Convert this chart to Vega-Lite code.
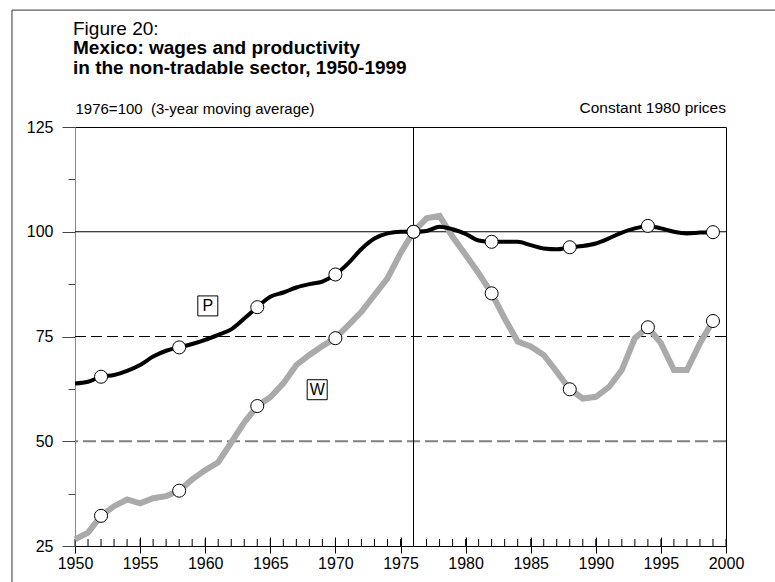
{
  "$schema": "https://vega.github.io/schema/vega-lite/v6.json",
  "width": 651,
  "height": 419,
  "autosize": "none",
  "padding": {"left": 75, "top": 127, "right": 49, "bottom": 36},
  "config": {
    "view": {"stroke": "black", "strokeWidth": 1},
    "font": "Liberation Sans",
    "axis": {"grid": false, "labelFont": "Liberation Sans", "labelFontSize": 16, "labelColor": "black"}
  },
  "title": {
    "text": "Figure 20:",
    "subtitle": ["Mexico: wages and productivity", "in the non-tradable sector, 1950-1999"],
    "anchor": "start",
    "frame": "group",
    "fontSize": 19,
    "fontWeight": "normal",
    "color": "black",
    "subtitleFontSize": 19,
    "subtitleFontWeight": "bold",
    "subtitleColor": "black",
    "subtitleLineHeight": 20,
    "subtitlePadding": 0,
    "offset": -68,
    "dx": -2
  },
  "datasets": {
    "series": [
      {"year": 1950, "P": 63.8, "W": 26.6},
      {"year": 1951, "P": 64.2, "W": 28.2},
      {"year": 1952, "P": 65.4, "W": 32.2},
      {"year": 1953, "P": 65.8, "W": 34.5},
      {"year": 1954, "P": 66.8, "W": 36.1},
      {"year": 1955, "P": 68.2, "W": 35.2},
      {"year": 1956, "P": 70.2, "W": 36.4},
      {"year": 1957, "P": 71.6, "W": 36.9},
      {"year": 1958, "P": 72.4, "W": 38.2},
      {"year": 1959, "P": 73.2, "W": 40.9},
      {"year": 1960, "P": 74.2, "W": 43.1},
      {"year": 1961, "P": 75.4, "W": 45.0},
      {"year": 1962, "P": 76.7, "W": 49.7},
      {"year": 1963, "P": 79.3, "W": 54.5},
      {"year": 1964, "P": 82.0, "W": 58.4},
      {"year": 1965, "P": 84.5, "W": 60.5},
      {"year": 1966, "P": 85.5, "W": 63.8},
      {"year": 1967, "P": 86.7, "W": 68.2},
      {"year": 1968, "P": 87.5, "W": 70.6},
      {"year": 1969, "P": 88.1, "W": 72.7},
      {"year": 1970, "P": 89.8, "W": 74.6},
      {"year": 1971, "P": 92.5, "W": 77.7},
      {"year": 1972, "P": 95.9, "W": 80.9},
      {"year": 1973, "P": 98.4, "W": 84.9},
      {"year": 1974, "P": 99.6, "W": 88.9},
      {"year": 1975, "P": 100.0, "W": 94.9},
      {"year": 1976, "P": 100.0, "W": 100.0},
      {"year": 1977, "P": 100.2, "W": 103.2},
      {"year": 1978, "P": 101.2, "W": 103.8},
      {"year": 1979, "P": 100.6, "W": 98.8},
      {"year": 1980, "P": 99.5, "W": 94.5},
      {"year": 1981, "P": 97.9, "W": 90.1},
      {"year": 1982, "P": 97.6, "W": 85.3},
      {"year": 1983, "P": 97.6, "W": 79.3},
      {"year": 1984, "P": 97.6, "W": 73.8},
      {"year": 1985, "P": 96.8, "W": 72.6},
      {"year": 1986, "P": 96.0, "W": 70.6},
      {"year": 1987, "P": 95.8, "W": 66.6},
      {"year": 1988, "P": 96.3, "W": 62.4},
      {"year": 1989, "P": 96.6, "W": 60.2},
      {"year": 1990, "P": 97.2, "W": 60.6},
      {"year": 1991, "P": 98.4, "W": 62.9},
      {"year": 1992, "P": 99.8, "W": 67.0},
      {"year": 1993, "P": 100.8, "W": 74.6},
      {"year": 1994, "P": 101.4, "W": 77.2},
      {"year": 1995, "P": 100.8, "W": 73.4},
      {"year": 1996, "P": 100.0, "W": 67.0},
      {"year": 1997, "P": 99.6, "W": 67.0},
      {"year": 1998, "P": 99.8, "W": 73.4},
      {"year": 1999, "P": 99.9, "W": 78.7}
    ],
    "minorTicks": [
      {"year": 1950}, {"year": 1951}, {"year": 1952}, {"year": 1953}, {"year": 1954}, {"year": 1955}, {"year": 1956}, {"year": 1957}, {"year": 1958}, {"year": 1959},
      {"year": 1960}, {"year": 1961}, {"year": 1962}, {"year": 1963}, {"year": 1964}, {"year": 1965}, {"year": 1966}, {"year": 1967}, {"year": 1968}, {"year": 1969},
      {"year": 1970}, {"year": 1971}, {"year": 1972}, {"year": 1973}, {"year": 1974}, {"year": 1975}, {"year": 1976}, {"year": 1977}, {"year": 1978}, {"year": 1979},
      {"year": 1980}, {"year": 1981}, {"year": 1982}, {"year": 1983}, {"year": 1984}, {"year": 1985}, {"year": 1986}, {"year": 1987}, {"year": 1988}, {"year": 1989},
      {"year": 1990}, {"year": 1991}, {"year": 1992}, {"year": 1993}, {"year": 1994}, {"year": 1995}, {"year": 1996}, {"year": 1997}, {"year": 1998}, {"year": 1999},
      {"year": 2000}
    ],
    "refs": [
      {"value": 100, "kind": "solid"},
      {"value": 75, "kind": "dashBlack"},
      {"value": 50, "kind": "dashGray"}
    ],
    "labels": [
      {"year": 1960.2, "value": 82.3, "label": "P"},
      {"year": 1968.6, "value": 62.3, "label": "W"}
    ],
    "frame": [
      {"x": 1945.16, "x2": 2010, "y": 152.9, "y2": 10}
    ]
  },
  "layer": [
    {
      "data": {"name": "frame"},
      "mark": {"type": "rect", "fill": null, "stroke": "#333", "strokeWidth": 1, "clip": false},
      "encoding": {
        "x": {"field": "x", "type": "quantitative", "scale": {"domain": [1950, 2000], "nice": false, "zero": false},
          "axis": {
            "orient": "bottom",
            "values": [1950, 1955, 1960, 1965, 1970, 1975, 1980, 1985, 1990, 1995, 2000],
            "format": "d",
            "offset": -9,
            "domain": false,
            "tickColor": "black",
            "tickWidth": 1,
            "tickSize": 16,
            "labelPadding": 2,
            "labelFlush": false,
            "labelOverlap": false,
            "title": null
          }
        },
        "x2": {"field": "x2"},
        "y": {"field": "y", "type": "quantitative", "scale": {"domain": [25, 125], "nice": false, "zero": false},
          "axis": {
            "values": [25, 37.5, 50, 62.5, 75, 87.5, 100, 112.5, 125],
            "tickSize": {"condition": {"test": "datum.value % 25 === 0", "value": 13}, "value": 7},
            "labelExpr": "datum.value % 25 === 0 ? datum.label : ''",
            "domainColor": "#888",
            "tickColor": "#444",
            "labelPadding": 9,
            "labelOverlap": false,
            "title": "1976=100 \u00a0(3-year moving average)",
            "titleFont": "Liberation Sans",
            "titleFontSize": 15,
            "titleFontWeight": "normal",
            "titleColor": "black",
            "titleAngle": 0,
            "titleAlign": "left",
            "titleBaseline": "alphabetic",
            "titleX": 0,
            "titleY": -14
          }
        },
        "y2": {"field": "y2"}
      }
    },
    {
      "data": {"name": "minorTicks"},
      "mark": {"type": "rule", "color": "black", "strokeWidth": 1},
      "encoding": {
        "x": {"field": "year", "type": "quantitative"},
        "y": {"datum": 25},
        "y2": {"datum": 26.67}
      }
    },
    {
      "data": {"name": "refs"},
      "mark": {"type": "rule"},
      "encoding": {
        "y": {"field": "value", "type": "quantitative"},
        "color": {"field": "kind", "type": "nominal", "scale": {"domain": ["solid", "dashBlack", "dashGray"], "range": ["black", "black", "#808080"]}, "legend": null},
        "strokeDash": {"field": "kind", "type": "nominal", "scale": {"domain": ["solid", "dashBlack", "dashGray"], "range": [[1, 0], [11, 5], [13, 5]]}, "legend": null},
        "strokeWidth": {"field": "kind", "type": "nominal", "scale": {"type": "ordinal", "domain": ["solid", "dashBlack", "dashGray"], "range": [1.2, 1, 2]}, "legend": null}
      }
    },
    {
      "data": {"values": [{"year": 1976}]},
      "mark": {"type": "rule", "color": "black", "strokeWidth": 1},
      "encoding": {"x": {"field": "year", "type": "quantitative"}}
    },
    {
      "data": {"name": "series"},
      "mark": {"type": "line", "color": "#aaaaaa", "strokeWidth": 6},
      "encoding": {
        "x": {"field": "year", "type": "quantitative"},
        "y": {"field": "W", "type": "quantitative"}
      }
    },
    {
      "data": {"name": "series"},
      "mark": {"type": "line", "color": "black", "strokeWidth": 4, "interpolate": "monotone"},
      "encoding": {
        "x": {"field": "year", "type": "quantitative"},
        "y": {"field": "P", "type": "quantitative"}
      }
    },
    {
      "data": {"name": "series"},
      "transform": [{"filter": {"field": "year", "oneOf": [1952, 1958, 1964, 1970, 1976, 1982, 1988, 1994, 1999]}}],
      "mark": {"type": "point", "shape": "circle", "filled": true, "fill": "white", "stroke": "black", "strokeWidth": 1, "size": 170, "opacity": 1},
      "encoding": {
        "x": {"field": "year", "type": "quantitative"},
        "y": {"field": "W", "type": "quantitative"}
      }
    },
    {
      "data": {"name": "series"},
      "transform": [{"filter": {"field": "year", "oneOf": [1952, 1958, 1964, 1970, 1976, 1982, 1988, 1994, 1999]}}],
      "mark": {"type": "point", "shape": "circle", "filled": true, "fill": "white", "stroke": "black", "strokeWidth": 1, "size": 170, "opacity": 1},
      "encoding": {
        "x": {"field": "year", "type": "quantitative"},
        "y": {"field": "P", "type": "quantitative"}
      }
    },
    {
      "data": {"name": "labels"},
      "mark": {"type": "point", "shape": "square", "filled": true, "fill": "white", "stroke": "black", "strokeWidth": 1, "size": 400, "opacity": 1},
      "encoding": {
        "x": {"field": "year", "type": "quantitative"},
        "y": {"field": "value", "type": "quantitative"}
      }
    },
    {
      "data": {"name": "labels"},
      "mark": {"type": "text", "font": "Liberation Sans", "fontSize": 16, "align": "center", "baseline": "middle", "color": "black"},
      "encoding": {
        "x": {"field": "year", "type": "quantitative"},
        "y": {"field": "value", "type": "quantitative"},
        "text": {"field": "label"}
      }
    },
    {
      "data": {"values": [{"year": 2000, "value": 125, "label": "Constant 1980 prices"}]},
      "mark": {"type": "text", "font": "Liberation Sans", "fontSize": 15.5, "align": "right", "baseline": "alphabetic", "dy": -14, "color": "black"},
      "encoding": {
        "x": {"field": "year", "type": "quantitative"},
        "y": {"field": "value", "type": "quantitative"},
        "text": {"field": "label"}
      }
    }
  ]
}
